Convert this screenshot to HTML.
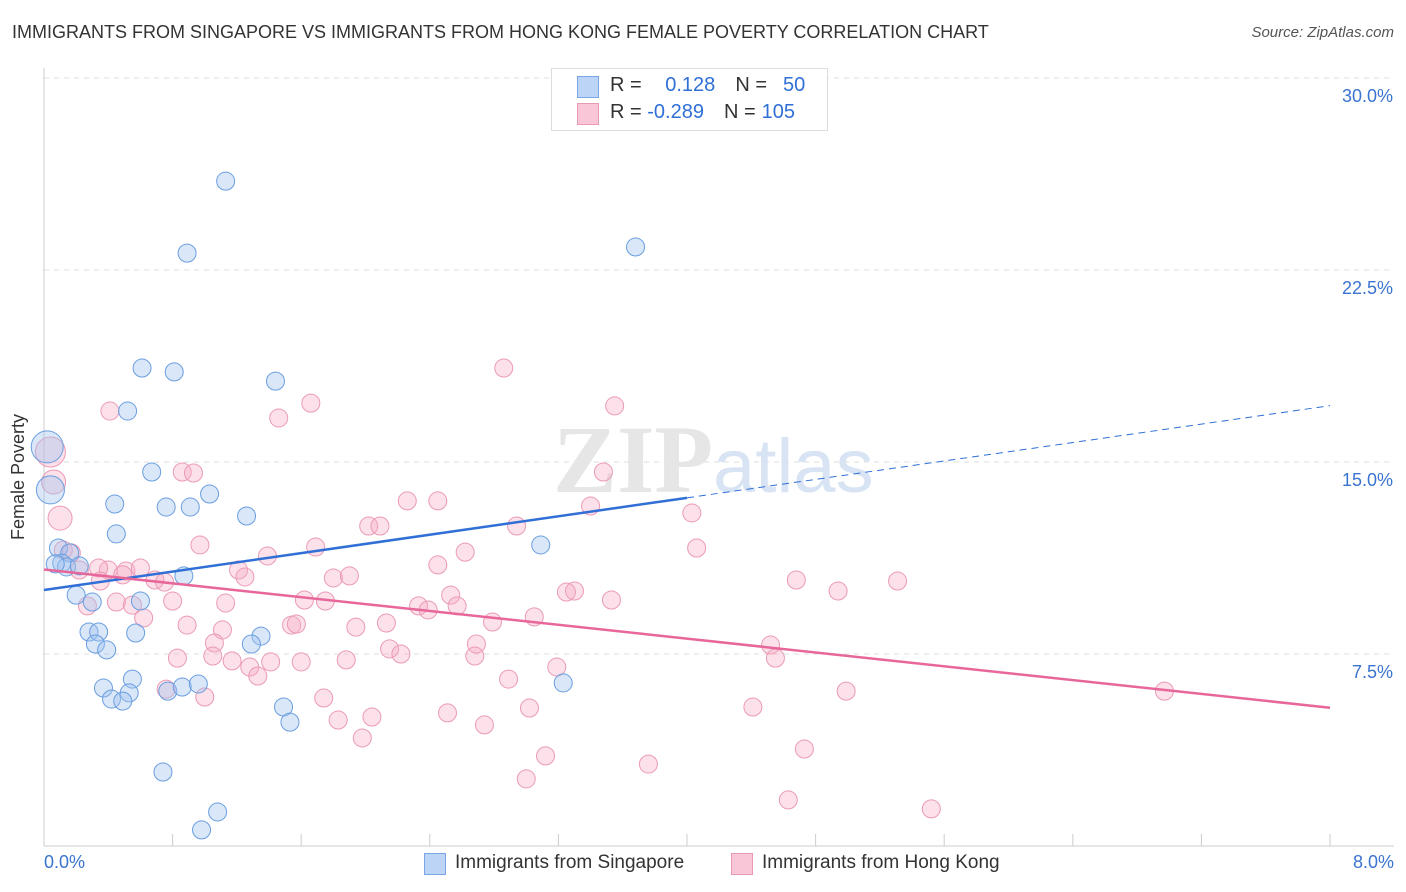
<!DOCTYPE html>
<html><head><meta charset="utf-8">
<style>
body{margin:0;background:#fff;font-family:"Liberation Sans",sans-serif;}
#wrap{position:relative;width:1406px;height:892px;overflow:hidden;}
.t{position:absolute;white-space:nowrap;}
</style></head><body>
<div id="wrap">
<div class="t" style="left:12px;top:22px;font-size:18px;color:#333;">IMMIGRANTS FROM SINGAPORE VS IMMIGRANTS FROM HONG KONG FEMALE POVERTY CORRELATION CHART</div>
<div class="t" style="right:12px;top:24px;font-size:15px;color:#555;font-style:italic;">Source: ZipAtlas.com</div>
<svg id="chart" width="1406" height="892" style="position:absolute;left:0;top:0"></svg>
</div>
<script>
const blueX=[1.13,0.89,3.68,0.61,0.81,1.44,0.52,0.67,1.03,0.44,0.76,0.91,1.26,0.45,3.09,0.09,0.16,0.11,0.14,0.22,0.07,0.87,0.20,0.30,0.60,0.28,0.34,0.57,0.32,0.39,1.35,1.29,0.55,0.37,0.53,0.77,0.86,0.96,0.42,0.49,3.23,1.49,1.53,0.74,1.08,0.98,0.02,0.04];
const blueY=[25.97,23.16,23.40,18.67,18.52,18.16,16.99,14.61,13.75,13.36,13.24,13.24,12.89,12.19,11.76,11.64,11.45,11.05,10.90,10.94,11.02,10.55,9.80,9.53,9.57,8.36,8.36,8.32,7.89,7.66,8.20,7.89,6.52,6.17,5.98,6.05,6.21,6.33,5.74,5.66,6.37,5.43,4.84,2.89,1.33,0.63,15.59,13.91];
const blueR=[9,9,9,9,9,9,9,9,9,9,9,9,9,9,9,9,9,9,9,9,9,9,9,9,9,9,9,9,9,9,9,9,9,9,9,9,9,9,9,9,9,9,9,9,9,9,16,14];
const pinkX=[2.86,1.66,3.55,0.41,1.46,0.86,0.93,3.48,2.26,2.45,3.40,4.03,2.94,2.02,2.09,0.97,1.69,4.06,1.39,2.62,2.45,0.40,0.12,0.17,0.22,0.34,0.51,0.60,0.49,0.35,0.69,0.75,1.21,1.25,1.80,1.90,4.68,4.94,5.31,3.30,3.25,2.53,1.62,1.75,2.33,2.39,2.57,0.45,0.55,0.80,1.13,0.27,0.62,0.89,1.11,1.54,1.57,1.94,2.13,2.79,3.05,3.53,1.06,2.15,2.22,2.69,2.68,0.83,1.05,1.17,1.28,1.33,1.41,1.60,1.88,3.19,2.89,4.52,4.55,0.76,1.00,1.74,1.83,2.04,2.51,2.74,3.02,4.41,4.99,6.97,1.98,3.12,4.73,3.76,3.00,4.63,5.52,0.10,0.06,0.04];
const pinkY=[18.67,17.30,17.19,16.99,16.72,14.61,14.57,14.61,13.48,13.48,13.28,13.01,12.50,12.50,12.50,11.76,11.68,11.64,11.33,11.48,10.98,10.78,11.56,11.45,10.78,10.86,10.74,10.86,10.59,10.35,10.39,10.31,10.78,10.51,10.47,10.55,10.39,9.96,10.35,9.96,9.92,9.80,9.61,9.57,9.38,9.22,9.38,9.53,9.41,9.57,9.49,9.38,8.91,8.63,8.44,8.63,8.67,8.55,8.71,8.75,8.95,9.61,7.93,7.70,7.50,7.89,7.42,7.34,7.42,7.23,6.99,6.64,7.19,7.19,7.27,6.99,6.52,7.85,7.34,6.13,5.82,5.78,4.92,5.04,5.20,4.73,5.39,5.43,6.05,6.05,4.22,3.52,3.79,3.20,2.62,1.80,1.45,12.81,14.22,15.39];
const pinkR=pinkX.map((_,i)=>i>=pinkX.length-3?(i==pinkX.length-1?15:12):9);
const yTicks=[7.5,15,22.5,30];
const yTickLabels=["7.5%","15.0%","22.5%","30.0%"];
const blueLine=[0.0,10.0,4.0,13.6,8.0,17.2];
const pinkLine=[0.0,10.8,8.0,5.4];
const NS="http://www.w3.org/2000/svg";
const svg=document.getElementById('chart');
const X=v=>44+v*160.75, Y=v=>846-v*25.6;
function mk(t,a,p){const e=document.createElementNS(NS,t);for(const k in a)e.setAttribute(k,a[k]);(p||svg).appendChild(e);return e;}
// grid
yTicks.forEach((v,i)=>{
 const g=mk('line',{x1:44,x2:1394,y1:Y(v),y2:Y(v),stroke:'#ddd','stroke-dasharray':'5,5'});
 
 
 const t=mk('text',{x:1393,y:Y(v)+24,'text-anchor':'end','font-size':18,fill:'#3a74d0','font-family':'Liberation Sans'});
 t.textContent=yTickLabels[i];
 
 
});
const ax=mk('line',{x1:44,x2:44,y1:68,y2:846,stroke:'#ccc'});


const bx=mk('line',{x1:44,x2:1394,y1:846,y2:846,stroke:'#ccc'});


for(let k=1;k<=10;k++){const tk=mk('line',{x1:X(k*0.8),x2:X(k*0.8),y1:834,y2:846,stroke:'#ccc'});
 
 }
// watermark
const wm=mk('text',{x:553,y:492,'font-size':96,fill:'#e6e6e6','font-family':'Liberation Serif','font-weight':'bold'});
wm.innerHTML='ZIP<tspan fill="#d8e4f4" font-family="Liberation Sans" font-weight="normal" font-size="76">atlas</tspan>';


// points
pinkX.forEach((v,i)=>{const c=mk('circle',{cx:X(v),cy:Y(pinkY[i]),r:pinkR[i],fill:'rgba(246,170,195,0.35)',stroke:'#eb9ab5','stroke-width':1});
 
 });
blueX.forEach((v,i)=>{const c=mk('circle',{cx:X(v),cy:Y(blueY[i]),r:blueR[i],fill:'rgba(160,196,240,0.4)',stroke:'#6a9ee0','stroke-width':1});
 
 });
// trend lines
const b1=mk('line',{x1:X(blueLine[0]),y1:Y(blueLine[1]),x2:X(blueLine[2]),y2:Y(blueLine[3]),stroke:'#2f6fd6','stroke-width':2.5});


const b2=mk('line',{x1:X(blueLine[2]),y1:Y(blueLine[3]),x2:X(blueLine[4]),y2:Y(blueLine[5]),stroke:'#2f6fd6','stroke-width':1,'stroke-dasharray':'7,5'});


const p1=mk('line',{x1:X(pinkLine[0]),y1:Y(pinkLine[1]),x2:X(pinkLine[2]),y2:Y(pinkLine[3]),stroke:'#e8679a','stroke-width':2.5});


</script>
<div class="t" style="left:8px;top:540px;transform:rotate(-90deg);transform-origin:left top;font-size:18px;color:#333;">Female Poverty</div>
<div class="t" style="left:44px;top:852px;font-size:18px;color:#3a74d0;">0.0%</div>
<div class="t" style="right:12px;top:852px;font-size:18px;color:#3a74d0;">8.0%</div>
<div style="position:absolute;left:551px;top:68px;width:275px;height:61px;border:1px solid #ddd;background:#fff;font-size:20px;">
 <div style="position:absolute;left:25px;top:7px;width:20px;height:20px;background:#bcd4f6;border:1px solid #7aa6e6;"></div>
 <div class="t" style="left:58px;top:5px;color:#333;">R = <span style="color:#2f6fd6;margin-left:18px">0.128</span><span style="margin-left:20px">N =</span><span style="color:#2f6fd6;margin-left:16px">50</span></div>
 <div style="position:absolute;left:25px;top:34px;width:20px;height:20px;background:#f8c6d6;border:1px solid #e89ab5;"></div>
 <div class="t" style="left:58px;top:32px;color:#333;">R = <span style="color:#2f6fd6">-0.289</span><span style="margin-left:20px">N =</span><span style="color:#2f6fd6;margin-left:6px">105</span></div>
</div>
<div style="position:absolute;left:424px;top:853px;width:20px;height:20px;background:#bcd4f6;border:1px solid #7aa6e6;"></div>
<div class="t" style="left:455px;top:852px;font-size:19px;color:#333;">Immigrants from Singapore</div>
<div style="position:absolute;left:731px;top:853px;width:20px;height:20px;background:#f8c6d6;border:1px solid #e89ab5;"></div>
<div class="t" style="left:762px;top:852px;font-size:19px;color:#333;">Immigrants from Hong Kong</div>
</body></html>
